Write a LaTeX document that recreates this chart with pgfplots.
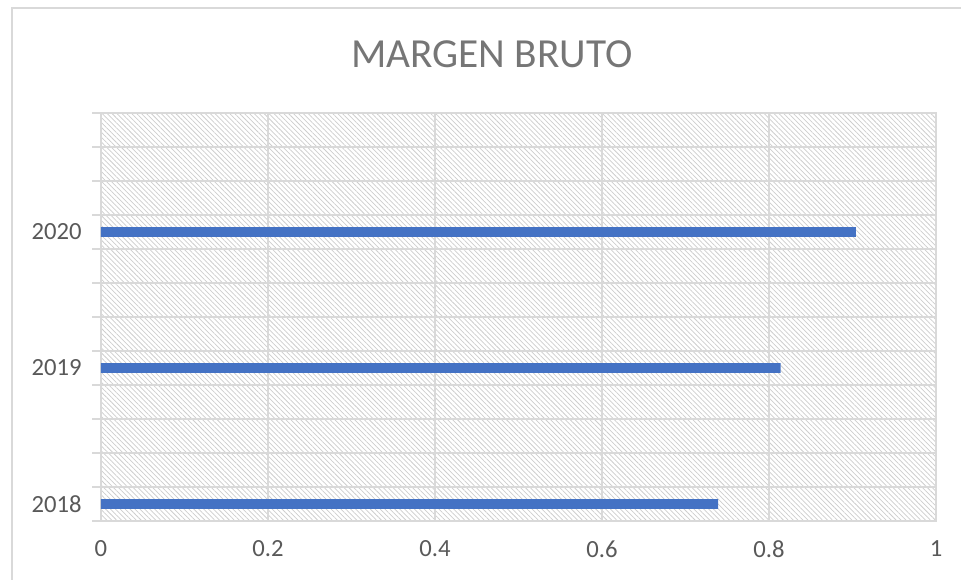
\documentclass[border=0pt]{standalone}
\usepackage{fontspec}
\setmainfont{Carlito}
\usepackage{pgfplots}
\pgfplotsset{compat=1.18}
\usetikzlibrary{patterns.meta}
\definecolor{barblue}{HTML}{4472C4}
\definecolor{gridgray}{HTML}{D9D9D9}
\definecolor{labgray}{HTML}{595959}
\definecolor{titlegray}{HTML}{767676}
\definecolor{hatchgray}{HTML}{CDCDCD}
\begin{document}
\begin{tikzpicture}
\useasboundingbox (0,0) rectangle (720.75pt,435pt);
% chart frame (only left and top edges fall inside the picture)
\draw[gridgray, line width=1.1pt] (9pt,-2pt) -- (9pt,429pt) -- (724pt,429pt);
\node[anchor=base, font=\fontsize{31}{34}\selectfont, text=titlegray] at (369pt,384pt) {MARGEN BRUTO};
\begin{axis}[
  at={(75.75pt,44.25pt)}, anchor=south west,
  scale only axis, width=626.25pt, height=306pt,
  xmin=0, xmax=1, ymin=0, ymax=12,
  xtick={0,0.2,0.4,0.6,0.8,1},
  ytick={0,1,...,12}, yticklabels={},
  ytick pos=left,
  extra y ticks={0.5,4.5,8.5},
  extra y tick labels={2018,2019,2020},
  extra y tick style={major tick length=0pt, grid=none,
    yticklabel style={xshift=-11pt}},
  xmajorgrids, ymajorgrids,
  grid style={gridgray, line width=1.1pt},
  axis line style={gridgray, line width=1.1pt},
  major tick style={gridgray, line width=1.1pt},
  xtick style={draw=none},
  ytick align=outside, major tick length=6.75pt,
  ticklabel style={font=\fontsize{18.5}{21}\selectfont, text=labgray},
  /pgf/number format/assume math mode=true,
  xticklabel style={yshift=-11pt},
  axis background/.style={pattern={Lines[angle=-45, distance=2.6pt, line width=0.55pt]}, pattern color=hatchgray},
  xbar, bar width=7.4pt,
  clip=false,
]
\addplot[fill=barblue, draw=none] coordinates {(0.739,0.5) (0.814,4.5) (0.904,8.5)};
\end{axis}
\end{tikzpicture}
\end{document}
